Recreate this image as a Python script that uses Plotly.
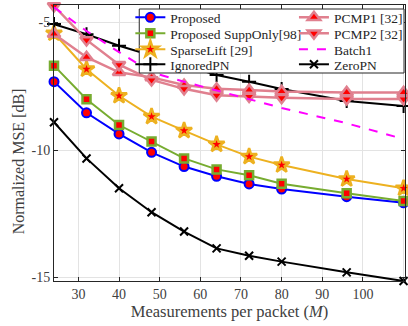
import plotly.graph_objects as go

M = [24, 32, 40, 48, 56, 64, 72, 80, 96, 110]

proposed = [-7.32, -8.54, -9.37, -10.09, -10.65, -11.03, -11.33, -11.53, -11.83, -12.07]
supp_only = [-6.69, -8.01, -9.02, -9.67, -10.33, -10.76, -10.99, -11.32, -11.70, -12.00]
sparselift = [-5.42, -6.83, -7.87, -8.69, -9.24, -9.78, -10.26, -10.59, -11.14, -11.50]
ignored_pn = [-5.06, -5.46, -5.91, -6.30, -6.70, -7.06, -7.32, -7.61, -8.08, -8.27]
pcmp1 = [-5.45, -6.36, -6.95, -7.15, -7.45, -7.60, -7.65, -7.70, -7.74, -7.74]
pcmp2 = [-4.35, -5.68, -6.65, -7.25, -7.60, -7.85, -7.90, -7.95, -8.00, -8.00]
batch1 = [-4.40, -5.33, -6.16, -6.95, -7.32, -7.67, -8.00, -8.35, -8.95, -9.57]
zero_pn = [-8.91, -10.33, -11.50, -12.44, -13.20, -13.86, -14.15, -14.38, -14.80, -15.14]

x_ticks = [30, 40, 50, 60, 70, 80, 90, 100, 110]
y_ticks = [-15, -10, -5]
y_tick_text = ["-15", "-10", "-5"]

FONT = "Liberation Serif"
PINK = "#E0808F"
TXT = "#262626"

# legend slot layout (pixel positions of each legend row)
COL_X = [131, 296]
ROW_Y = [17.5, 33.5, 49.5, 64.5]

fig = go.Figure()
legend_layout = {}
slot = [0]


def next_legend():
    i = slot[0]
    slot[0] += 1
    col, row = divmod(i, 4)
    key = "legend" if i == 0 else f"legend{i + 1}"
    legend_layout[key] = dict(
        x=(COL_X[col] - 54) / 354, y=(281 - ROW_Y[row]) / 276,
        xanchor="left", yanchor="middle", orientation="v",
        bgcolor="rgba(0,0,0,0)", borderwidth=0,
        font=dict(family=FONT, size=13.5, color=TXT),
        itemwidth=30,
    )
    return key


def add(name, y, color, symbol, size, fill, lw=2, lwm=2):
    fig.add_trace(go.Scatter(
        x=M, y=y, name=name, mode="lines+markers", legend=next_legend(),
        line=dict(color=color, width=lw),
        marker=dict(symbol=symbol, size=size, color=fill,
                    line=dict(color=color, width=lwm)),
        cliponaxis=False,
    ))


add("Proposed", proposed, "#0000FF", "circle", 9, "#FF0000", lwm=2)
add("Proposed SuppOnly[98]", supp_only, "#77AC30", "square", 8, "#FF0000", lwm=2.5)
add("SparseLift [29]", sparselift, "#EDB120", "star", 12, "#FF0000", lwm=2.5)
add("IgnoredPN", ignored_pn, "#000000", "cross-thin", 10, "#000000", lwm=2)
add("PCMP1 [32]", pcmp1, PINK, "triangle-up", 11, "#FF0000", lw=2.5, lwm=2.5)
add("PCMP2 [32]", pcmp2, PINK, "triangle-down", 11, "#FF0000", lw=2.5, lwm=2.5)
fig.add_trace(go.Scatter(x=M, y=batch1, name="Batch1", mode="lines", legend=next_legend(),
                         line=dict(color="#FF00FF", width=2, dash="dash")))
add("ZeroPN", zero_pn, "#000000", "x-thin", 8, "#000000", lwm=2)

axis_common = dict(
    showline=True, linecolor=TXT, linewidth=1, mirror="ticks",
    ticks="inside", ticklen=4, tickcolor=TXT,
    showgrid=True, gridcolor="#E3E3E3", gridwidth=1, zeroline=False,
    tickfont=dict(family=FONT, size=14, color="#404040"),
)

fig.update_xaxes(range=[24, 110.35], tickvals=x_ticks, **axis_common,
                 title=dict(text="Measurements per packet (<i>M</i>)",
                            font=dict(family=FONT, size=16.5, color="#404040"), standoff=3))
fig.update_yaxes(range=[-15.14, -4.31], tickvals=y_ticks, ticktext=y_tick_text, **axis_common)

# legend box
fig.add_shape(type="rect", xref="paper", yref="paper",
              x0=0.2429, x1=0.9972, y0=0.7536, y1=0.9855,
              fillcolor="white", line=dict(color=TXT, width=1), layer="above")

fig.update_layout(
    width=408, height=326,
    margin=dict(l=54, r=0, t=5, b=45),
    plot_bgcolor="white", paper_bgcolor="white",
    font=dict(family=FONT, color=TXT),
    showlegend=True,
    annotations=[dict(text="Normalized MSE [dB]", textangle=-90,
                      xref="paper", yref="paper",
                      x=(18 - 54) / 354, y=(281 - 161) / 276,
                      xanchor="center", yanchor="middle", showarrow=False,
                      font=dict(family=FONT, size=16, color="#404040"))],
    **legend_layout,
)

fig.write_html("out.html")
